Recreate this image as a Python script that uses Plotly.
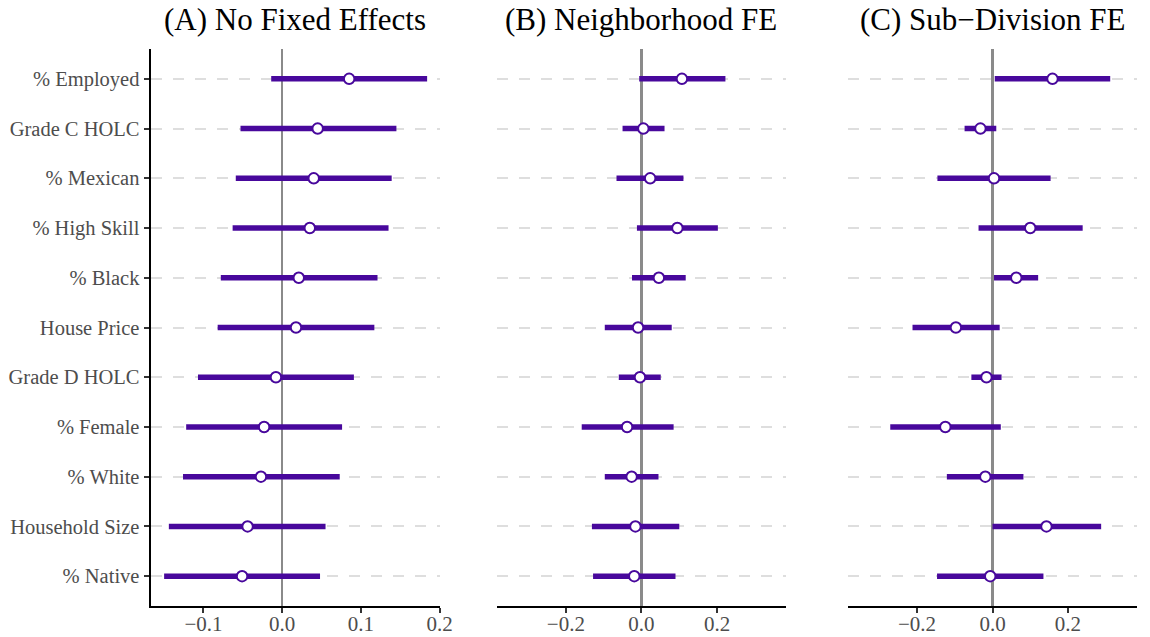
import plotly.graph_objects as go

# ---- data ----
variables = ["% Employed", "Grade C HOLC", "% Mexican", "% High Skill", "% Black",
             "House Price", "Grade D HOLC", "% Female", "% White", "Household Size", "% Native"]

panel_titles = ["(A) No Fixed Effects", "(B) Neighborhood FE", "(C) Sub\u2212Division FE"]

a_est = [0.085, 0.045, 0.040, 0.035, 0.021, 0.0175, -0.008, -0.023, -0.027, -0.044, -0.051]
a_lo = [-0.014, -0.053, -0.059, -0.063, -0.078, -0.082, -0.107, -0.122, -0.126, -0.144, -0.150]
a_hi = [0.184, 0.145, 0.139, 0.135, 0.121, 0.117, 0.091, 0.076, 0.073, 0.055, 0.048]

b_est = [0.107, 0.005, 0.023, 0.095, 0.046, -0.009, -0.004, -0.038, -0.026, -0.016, -0.019]
b_lo = [-0.006, -0.050, -0.066, -0.012, -0.025, -0.097, -0.060, -0.158, -0.097, -0.131, -0.128]
b_hi = [0.222, 0.061, 0.111, 0.202, 0.117, 0.080, 0.051, 0.085, 0.045, 0.100, 0.090]

c_est = [0.159, -0.032, 0.004, 0.100, 0.063, -0.097, -0.016, -0.125, -0.019, 0.143, -0.006]
c_lo = [0.006, -0.074, -0.146, -0.037, 0.004, -0.212, -0.056, -0.271, -0.121, 0.000, -0.147]
c_hi = [0.312, 0.010, 0.154, 0.239, 0.121, 0.019, 0.024, 0.022, 0.082, 0.288, 0.135]

a_ticks = [-0.1, 0.0, 0.1, 0.2]
bc_ticks = [-0.2, 0.0, 0.2]

# ---- style ----
PURPLE = "#48089C"
FONT = "Liberation Serif"
W, H = 1150, 637

fig = go.Figure()

panels = [(a_est, a_lo, a_hi), (b_est, b_lo, b_hi), (c_est, c_lo, c_hi)]
for i, (est, lo, hi) in enumerate(panels):
    xa = "x" if i == 0 else f"x{i+1}"
    ya = "y" if i == 0 else f"y{i+1}"
    lx, ly = [], []
    for v, l, h in zip(variables, lo, hi):
        lx += [l, h, None]
        ly += [v, v, None]
    fig.add_trace(go.Scatter(x=lx, y=ly, mode="lines", xaxis=xa, yaxis=ya,
                             line=dict(color=PURPLE, width=5.5), hoverinfo="skip",
                             showlegend=False))
    fig.add_trace(go.Scatter(x=est, y=variables, mode="markers", xaxis=xa, yaxis=ya,
                             marker=dict(size=10.5, color="white",
                                         line=dict(color=PURPLE, width=2)),
                             showlegend=False))

x_domains = [[152.3 / W, 445.3 / W], [502.3 / W, 795.3 / W], [857.7 / W, 1.0]]
y_domain = [1 - 606 / H, 1 - 49 / H]
x_ranges = [[-0.1672, 0.2007], [-0.383, 0.383], [-0.383, 0.383]]
x_ticks = [a_ticks, bc_ticks, bc_ticks]

layout = dict(width=W, height=H, margin=dict(l=0, r=0, t=0, b=0),
              paper_bgcolor="white", plot_bgcolor="white", dragmode=False,
              font=dict(family=FONT, size=20, color="#4D4D4D"))

for i in range(3):
    xk = "xaxis" if i == 0 else f"xaxis{i+1}"
    yk = "yaxis" if i == 0 else f"yaxis{i+1}"
    ya = "y" if i == 0 else f"y{i+1}"
    xa = "x" if i == 0 else f"x{i+1}"
    layout[xk] = dict(domain=x_domains[i], anchor=ya, range=x_ranges[i],
                      tickvals=x_ticks[i], tickformat=".1f", fixedrange=True,
                      showgrid=False, zeroline=True, zerolinecolor="#8A8A8A",
                      zerolinewidth=2.5, showline=True, linecolor="black", linewidth=2,
                      ticks="outside", ticklen=5, tickwidth=2, tickcolor="#333333",
                      ticklabelstandoff=-7,
                      tickfont=dict(family=FONT, size=21, color="#4D4D4D"))
    ydict = dict(domain=y_domain, anchor=xa, type="category", fixedrange=True,
                 categoryorder="array", categoryarray=variables[::-1],
                 range=[-0.6, len(variables) - 0.4],
                 showgrid=True, gridcolor="#DEDEDE", gridwidth=2, griddash="11px,11px",
                 zeroline=False)
    if i == 0:
        ydict.update(showline=True, linecolor="black", linewidth=2, ticks="outside",
                     ticklen=5, tickwidth=2, tickcolor="#333333",
                     tickfont=dict(family=FONT, size=20.5, color="#4D4D4D"))
    else:
        ydict.update(showline=False, showticklabels=False, ticks="")
    layout[yk] = ydict

annotations = []
for i in range(3):
    annotations.append(dict(text=panel_titles[i], xref="paper", yref="paper",
                            x=(x_domains[i][0] + x_domains[i][1]) / 2, y=1 - 20 / H,
                            xanchor="center", yanchor="middle", showarrow=False,
                            font=dict(family=FONT, size=31, color="black")))
layout["annotations"] = annotations

fig.update_layout(**layout)
fig.write_html("out.html", config={"displayModeBar": False, "staticPlot": True},
               post_script="document.documentElement.style.margin='0';"
                           "document.body.style.margin='0';"
                           "document.body.style.overflow='hidden';"
                           "document.documentElement.style.overflow='hidden';")
